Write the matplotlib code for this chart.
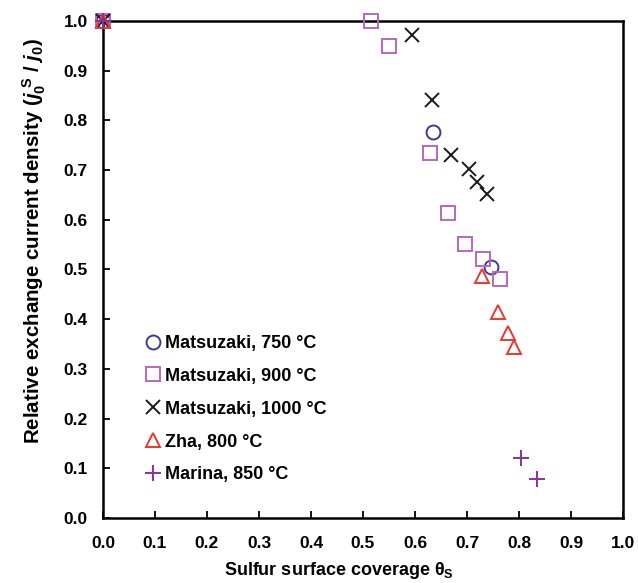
import matplotlib
matplotlib.use("Agg")
import matplotlib.pyplot as plt

plt.rcParams['font.family'] = ['Liberation Sans', 'DejaVu Sans']
plt.rcParams['font.weight'] = 'bold'
plt.rcParams['mathtext.fontset'] = 'custom'
plt.rcParams['mathtext.rm'] = 'Liberation Sans:bold'
plt.rcParams['mathtext.it'] = 'Liberation Sans:bold:italic'
plt.rcParams['mathtext.bf'] = 'Liberation Sans:bold'

# dati nolasīti no attēla
m750_x = [0.0, 0.635, 0.747]
m750_y = [1.0, 0.777, 0.505]

m900_x = [0.0, 0.515, 0.55, 0.629, 0.663, 0.696, 0.730, 0.763]
m900_y = [1.0, 1.0, 0.950, 0.735, 0.613, 0.551, 0.522, 0.480]

m1000_x = [0.0, 0.595, 0.632, 0.669, 0.704, 0.719, 0.739]
m1000_y = [1.0, 0.972, 0.842, 0.730, 0.702, 0.677, 0.652]

zha_x = [0.0, 0.729, 0.760, 0.778, 0.791]
zha_y = [1.0, 0.486, 0.415, 0.372, 0.345]

marina_x = [0.0, 0.804, 0.834]
marina_y = [1.0, 0.120, 0.078]

ticks = [i / 10 for i in range(11)]
tick_labels = ['%.1f' % t for t in ticks]

fig = plt.figure(figsize=(6.38, 5.83), dpi=100)
ax = fig.add_axes([0.1614, 0.1115, 0.8151, 0.8525])

ax.plot(m750_x, m750_y, 'o', ms=10, mfc='none', mec='#3a3a90', mew=1.4, ls='none',
        label='Matsuzaki, 750 °C', clip_on=False, zorder=3)
ax.plot(m900_x, m900_y, 's', ms=10, mfc='none', mec='#b866c2', mew=1.4, ls='none',
        label='Matsuzaki, 900 °C', clip_on=False, zorder=3)
ax.plot(m1000_x, m1000_y, 'x', ms=10, mec='#1a1a1a', mew=1.4, ls='none',
        label='Matsuzaki, 1000 °C', clip_on=False, zorder=3)
ax.plot(zha_x, zha_y, '^', ms=10, mfc='none', mec='#e8392e', mew=1.4, ls='none',
        label='Zha, 800 °C', clip_on=False, zorder=3)
ax.plot(marina_x, marina_y, '+', ms=11, mec='#8b2f9e', mew=1.4, ls='none',
        label='Marina, 850 °C', clip_on=False, zorder=3)

ax.set_xlim(0, 1.0)
ax.set_ylim(0, 1.0)
ax.set_xticks(ticks)
ax.set_yticks(ticks)
ax.set_xticklabels(tick_labels)
ax.set_yticklabels(tick_labels)
ax.tick_params(direction='in', length=5, width=1.3, labelsize=12.5,
               top=False, right=False)
ax.tick_params(axis='x', pad=13)
ax.tick_params(axis='y', pad=11)
for s in ax.spines.values():
    s.set_linewidth(1.8)

ax.set_xlabel(r'Sulfur surface coverage θ$_{\mathrm{S}}$', fontsize=13, fontweight='bold')
ax.set_ylabel(r'Relative exchange current density ($\mathit{j}_0^{\ \mathrm{S}}$ / $\mathit{j}_0$)',
              fontsize=14.8, fontweight='bold')
ax.xaxis.set_label_coords(0.454, -0.085)
ax.yaxis.set_label_coords(-0.106, 0.557)

ax.legend(loc='lower left', bbox_to_anchor=(0.065, 0.055), frameon=False, fontsize=13,
          handletextpad=0.17, handlelength=1.0, labelspacing=0.88, borderaxespad=0)

fig.savefig('out.png', dpi=100)
